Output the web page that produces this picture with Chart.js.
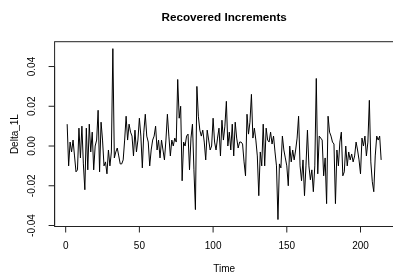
<!DOCTYPE html>
<html>
<head>
<meta charset="utf-8">
<script src="https://cdn.jsdelivr.net/npm/chart.js@4/dist/chart.umd.min.js"></script>
<style>
  html, body { margin: 0; padding: 0; background: #fff; overflow: hidden; }
  #wrap { width: 393px; height: 273px; overflow: hidden; }
</style>
</head>
<body>
<div id="wrap"><canvas id="incChart" width="400" height="273"></canvas></div>
<script>
const chartTitle = 'Recovered Increments';
const xTitle = 'Time';
const yTitle = 'Delta_1L';

const xTicks = [0, 50, 100, 150, 200];
const yTicks = [-0.04, -0.02, 0.00, 0.02, 0.04];
const yTickLabels = ['-0.04', '-0.02', '0.00', '0.02', '0.04'];

const increments = [
  0.011, -0.010, 0.002, -0.003, 0.003, -0.005, -0.013, -0.012, 0.009, -0.006,
  0.010, -0.009, -0.022, 0.009, -0.012, 0.011, -0.003, 0.007, -0.012, 0.000,
  0.003, 0.018, -0.013, 0.012, 0.003, -0.010, -0.008, -0.014, -0.002, -0.010,
  -0.003, 0.049, -0.006, -0.003, -0.001, -0.005, -0.009, -0.009, -0.007, 0.003,
  0.015, 0.003, 0.011, 0.007, 0.005, -0.005, 0.008, -0.003, 0.003, 0.014,
  0.005, -0.011, 0.007, 0.016, 0.005, 0.002, -0.010, -0.002, 0.003, 0.005,
  0.010, -0.002, 0.003, -0.006, 0.003, -0.002, -0.007, 0.003, 0.016, 0.005,
  -0.005, 0.003, 0.000, 0.004, 0.002, 0.0335, 0.014, 0.020, -0.0175, 0.002,
  0.000, 0.005, 0.006, -0.012, 0.004, 0.011, -0.012, -0.032, 0.030, 0.015,
  0.008, 0.005, 0.008, 0.002, -0.007, 0.008, 0.003, -0.002, 0.000, 0.014,
  0.002, -0.002, 0.004, 0.009, -0.005, 0.013, 0.003, 0.010, 0.0225, 0.000,
  0.007, -0.002, 0.011, -0.005, 0.012, 0.004, -0.001, 0.002, 0.002, 0.001,
  -0.008, -0.015, 0.016, 0.006, 0.012, 0.026, 0.004, 0.009, 0.003, -0.005,
  -0.025, -0.003, -0.010, 0.011, -0.010, 0.009, 0.003, 0.002, 0.007, 0.001,
  0.005, -0.003, -0.010, -0.037, -0.009, -0.011, 0.005, -0.002, -0.006, -0.010,
  -0.020, 0.000, -0.008, -0.002, -0.007, -0.002, 0.004, 0.015, -0.010, -0.0175,
  -0.007, -0.025, -0.010, 0.008, -0.010, -0.017, -0.012, -0.023, -0.010, 0.034,
  -0.014, 0.005, 0.004, 0.003, -0.015, -0.006, -0.029, 0.015, 0.007, 0.005,
  0.002, 0.001, -0.029, -0.002, -0.010, 0.002, 0.007, -0.015, -0.013, 0.000,
  -0.010, -0.003, -0.007, -0.004, -0.008, -0.005, 0.002, -0.002, -0.007, -0.014,
  0.004, 0.000, 0.005, -0.005, 0.002, 0.023, -0.008, -0.018, -0.023, -0.005,
  0.005, 0.003, 0.005, -0.007
];

const points = increments.map((v, i) => ({ x: i + 1, y: v }));

const font = '"Liberation Sans", Arial, sans-serif';

// R-style frame, axes and titles drawn from the chart's scales
const baseAxes = {
  id: 'baseAxes',
  afterDraw(chart) {
    const ctx = chart.ctx;
    const area = chart.chartArea;
    const xs = chart.scales.x;
    const ys = chart.scales.y;
    ctx.save();
    ctx.strokeStyle = '#222';
    ctx.lineWidth = 1;
    ctx.strokeRect(area.left, area.top, area.right - area.left, area.bottom - area.top);

    // x axis
    ctx.beginPath();
    ctx.moveTo(xs.getPixelForValue(xTicks[0]), area.bottom);
    ctx.lineTo(xs.getPixelForValue(xTicks[xTicks.length - 1]), area.bottom);
    xTicks.forEach((t) => {
      const px = xs.getPixelForValue(t);
      ctx.moveTo(px, area.bottom);
      ctx.lineTo(px, area.bottom + 6);
    });
    // y axis
    ctx.moveTo(area.left, ys.getPixelForValue(yTicks[0]));
    ctx.lineTo(area.left, ys.getPixelForValue(yTicks[yTicks.length - 1]));
    yTicks.forEach((t) => {
      const py = ys.getPixelForValue(t);
      ctx.moveTo(area.left, py);
      ctx.lineTo(area.left - 6, py);
    });
    ctx.stroke();

    ctx.fillStyle = '#000';
    ctx.font = '10px ' + font;
    ctx.textAlign = 'center';
    ctx.textBaseline = 'middle';
    xTicks.forEach((t) => {
      ctx.fillText(String(t), xs.getPixelForValue(t), area.bottom + 20);
    });
    yTicks.forEach((t, i) => {
      ctx.save();
      ctx.translate(area.left - 22, ys.getPixelForValue(t));
      ctx.rotate(-Math.PI / 2);
      ctx.fillText(yTickLabels[i], 0, 0);
      ctx.restore();
    });

    const midX = (area.left + 393.7) / 2;
    const midY = (area.top + area.bottom) / 2;
    ctx.fillText(xTitle, midX, area.bottom + 43);
    ctx.save();
    ctx.translate(15, midY);
    ctx.rotate(-Math.PI / 2);
    ctx.fillText(yTitle, 0, 0);
    ctx.restore();

    ctx.font = 'bold 11.7px ' + font;
    ctx.fillText(chartTitle, midX, 18);
    ctx.restore();
  }
};

new Chart(document.getElementById('incChart'), {
  type: 'line',
  data: {
    datasets: [
      {
        label: yTitle,
        data: points,
        borderColor: '#000',
        borderWidth: 1,
        pointRadius: 0,
        tension: 0,
        fill: false
      }
    ]
  },
  options: {
    responsive: false,
    animation: false,
    devicePixelRatio: 1,
    layout: {
      padding: { left: 54.6, right: 5, top: 41.7, bottom: 46.5 }
    },
    plugins: {
      legend: { display: false },
      tooltip: { enabled: false }
    },
    scales: {
      x: { type: 'linear', min: -7.52, max: 223.4, display: false },
      y: { min: -0.0405, max: 0.0525, display: false }
    }
  },
  plugins: [baseAxes]
});
</script>
</body>
</html>
